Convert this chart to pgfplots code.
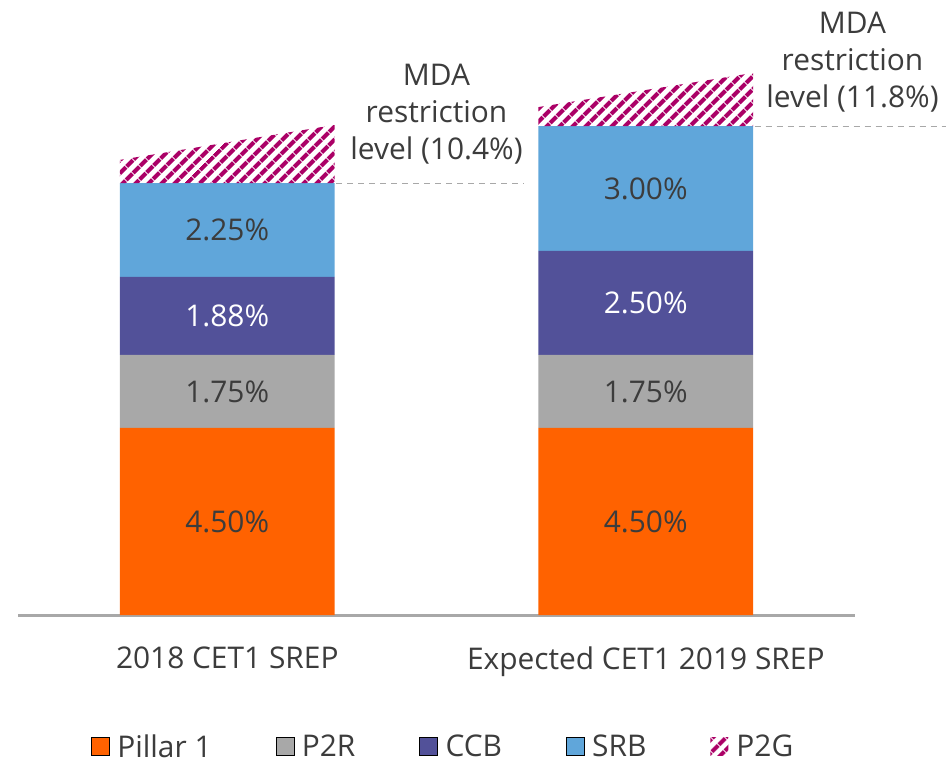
\documentclass[border=0pt]{standalone}
\usepackage{fontspec}
\setmainfont{Open Sans}
\usepackage{pgfplots}
\pgfplotsset{compat=1.18}
\usetikzlibrary{patterns.meta}

\definecolor{pillar}{HTML}{FF6200}
\definecolor{ptr}{HTML}{A8A8A8}
\definecolor{ccb}{HTML}{525199}
\definecolor{srb}{HTML}{60A6DA}
\definecolor{ptg}{HTML}{AB0066}
\definecolor{txt}{HTML}{3C3C3C}

\newcommand{\lbl}{\fontsize{30}{37.5}\selectfont}

\pgfplotsset{
  base/.style={
    width=837bp, height=582.4bp, scale only axis,
    at={(0bp,0bp)}, anchor=south west,
    xmin=-0.5, xmax=1.5, ymin=0, ymax=14,
    clip=false,
  },
  p2g/.style={draw=none, pattern={Lines[angle=45, distance=10bp, line width=4.8bp]}, pattern color=ptg},
  sq/.style={legend image code/.code={\fill[##1] (0bp,-9bp) rectangle (18bp,9bp);
      \path[draw=none, fill=none, pattern=none] (0bp,0bp) -- (24bp,0bp);}},
}

\begin{document}
\begin{tikzpicture}
\path[use as bounding box] (-18bp,-152bp) rectangle (928bp,615bp);

% stacked bars
\begin{axis}[base,
  ybar stacked, bar width=0.513,
  axis x line=bottom, axis y line=none,
  x axis line style={-, draw=ptr, line width=3bp},
  xtick={0,1}, xticklabels={2018 CET1 SREP, Expected CET1 2019 SREP},
  major tick length=0pt,
  xticklabel style={font=\lbl, text=txt, yshift=-28bp},
  ytick=\empty,
]
\addplot[fill=pillar, draw=none] coordinates {(0,4.50) (1,4.50)};
\addplot[fill=ptr, draw=none] coordinates {(0,1.75) (1,1.75)};
\addplot[fill=ccb, draw=none] coordinates {(0,1.88) (1,2.50)};
\addplot[fill=srb, draw=none] coordinates {(0,2.25) (1,3.00)};
\end{axis}

% P2G, labels, MDA lines, legend
\begin{axis}[base, hide axis,
  legend columns=5,
  legend style={draw=none, fill=none, at={(0.508,-0.226)}, anchor=center,
    font=\lbl, text=txt, nodes={inner ysep=0pt},
    /tikz/every even column/.append style={column sep=62bp}},
]
\addplot[p2g, forget plot] coordinates {(-0.2565,10.38) (-0.2565,10.94) (0.2565,11.78) (0.2565,10.38)} -- cycle;
\addplot[p2g, forget plot] coordinates {(0.7435,11.75) (0.7435,12.21) (1.2565,13.03) (1.2565,11.75)} -- cycle;

\addplot[draw=ptr, line width=1bp, dash pattern=on 6bp off 5bp, forget plot] coordinates {(0.26,10.38) (0.71,10.38)};
\addplot[draw=ptr, line width=1bp, dash pattern=on 6bp off 5bp, forget plot] coordinates {(1.26,11.75) (1.718,11.75)};

\addplot[draw=none, mark=none, forget plot, nodes near coords, point meta=explicit symbolic,
  nodes near coords align=center, nodes near coords style={font=\lbl, text=txt}]
  coordinates {(0,2.25)[4.50\%] (0,5.375)[1.75\%] (0,9.255)[2.25\%]
               (1,2.25)[4.50\%] (1,5.375)[1.75\%] (1,10.25)[3.00\%]};
\addplot[draw=none, mark=none, forget plot, nodes near coords, point meta=explicit symbolic,
  nodes near coords align=center, nodes near coords style={font=\lbl, text=white}]
  coordinates {(0,7.19)[1.88\%] (1,7.50)[2.50\%]};

\node[align=center, font=\lbl, text=txt] at (axis cs:0.50,12.04) {MDA\\restriction\\level (10.4\%)};
\node[align=center, font=\lbl, text=txt] at (axis cs:1.494,13.29) {MDA\\restriction\\level (11.8\%)};

\addlegendimage{sq, fill=pillar}
\addlegendentry{Pillar 1}
\addlegendimage{sq, fill=ptr}
\addlegendentry{P2R}
\addlegendimage{sq, fill=ccb}
\addlegendentry{CCB}
\addlegendimage{sq, fill=srb}
\addlegendentry{SRB}
\addlegendimage{sq, p2g}
\addlegendentry{P2G}
\end{axis}
\end{tikzpicture}
\end{document}
